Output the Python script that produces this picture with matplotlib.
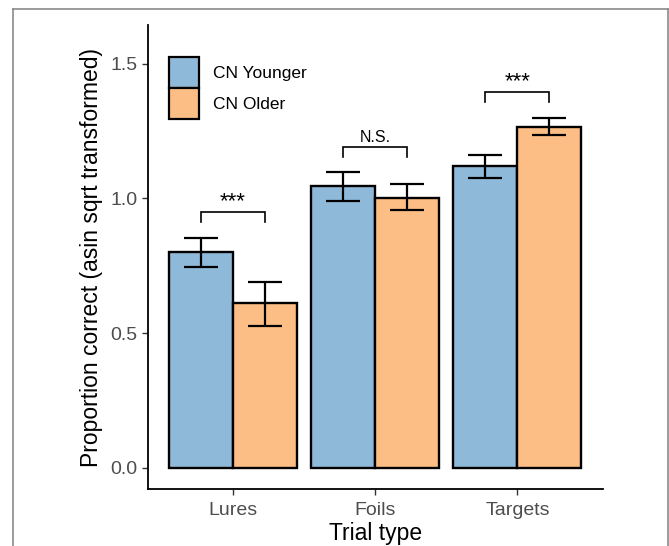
import numpy as np
import matplotlib
matplotlib.use('Agg')
import matplotlib.pyplot as plt
from matplotlib.patches import Patch
from matplotlib.lines import Line2D

categories = ['Lures', 'Foils', 'Targets']
groups = ['CN Younger', 'CN Older']

younger_mean = [0.800, 1.047, 1.119]
younger_lo = [0.744, 0.990, 1.075]
younger_hi = [0.854, 1.097, 1.160]

older_mean = [0.610, 1.003, 1.266]
older_lo = [0.527, 0.957, 1.237]
older_hi = [0.688, 1.052, 1.297]

sig_labels = ['***', 'N.S.', '***']
sig_heights = [0.951, 1.192, 1.396]

plt.rcParams['font.family'] = ['Liberation Sans', 'DejaVu Sans']

_BLUE = '#8FB9D9'
_ORANGE = '#FDBE85'
_W = 0.45

fig = plt.figure(figsize=(6.69, 5.46), dpi=100)
ax = fig.add_axes([0.2208, 0.1044, 0.6801, 0.8498])

x = np.arange(len(categories))
for off, means, lo, hi, col in [(-_W / 2, younger_mean, younger_lo, younger_hi, _BLUE),
                                (_W / 2, older_mean, older_lo, older_hi, _ORANGE)]:
    means = np.array(means)
    ax.bar(x + off, means, width=_W, color=col, edgecolor='black', linewidth=1.7, zorder=2)
    yerr = np.vstack([means - np.array(lo), np.array(hi) - means])
    ax.errorbar(x + off, means, yerr=yerr, fmt='none', ecolor='black',
                elinewidth=1.6, capsize=12.5, capthick=1.6, zorder=3)

# significance brackets
tip = 0.037
for i, (lab, h) in enumerate(zip(sig_labels, sig_heights)):
    x0, x1 = i - _W / 2, i + _W / 2
    ax.plot([x0, x0, x1, x1], [h - tip, h, h, h - tip], color='black', lw=1.2,
            solid_joinstyle='miter', zorder=3)
    fs = 11.5 if lab == 'N.S.' else 16
    ax.text(i, h + 0.018, lab, ha='center', va='baseline', fontsize=fs, color='black')

ax.set_xlim(-0.6, 2.6)
ax.set_ylim(-0.079, 1.644)
ax.set_xticks(x)
ax.set_xticklabels(categories)
ax.set_yticks([0.0, 0.5, 1.0, 1.5])
ax.set_yticklabels(['0.0', '0.5', '1.0', '1.5'])
ax.tick_params(axis='both', labelsize=14, labelcolor='#4D4D4D', color='#333333',
               length=4.5, width=1.0)
ax.tick_params(axis='x', pad=5)
ax.tick_params(axis='y', pad=3)

for s in ['top', 'right']:
    ax.spines[s].set_visible(False)
for s in ['left', 'bottom']:
    ax.spines[s].set_linewidth(1.3)
    ax.spines[s].set_color('black')

ax.set_xlabel('Trial type', fontsize=16.5, labelpad=2)
ax.set_ylabel('Proportion correct (asin sqrt transformed)', fontsize=16.5, labelpad=5)

handles = [Patch(facecolor=_BLUE, edgecolor='black', linewidth=1.6),
           Patch(facecolor=_ORANGE, edgecolor='black', linewidth=1.6)]
ax.legend(handles, groups, loc='upper left', bbox_to_anchor=(0.0475, 0.930),
          frameon=False, fontsize=12.5, borderpad=0, borderaxespad=0,
          handlelength=1.72, handleheight=2.37, labelspacing=0.0, handletextpad=0.8)

# grey frame around the figure panel
fig.add_artist(Line2D([13 / 669, 13 / 669], [0, 1 - 9 / 546], color='#8A8A8A', lw=1.2))
fig.add_artist(Line2D([13 / 669, 667.5 / 669], [1 - 9 / 546, 1 - 9 / 546], color='#8A8A8A', lw=1.2))
fig.add_artist(Line2D([667.5 / 669, 667.5 / 669], [0, 1 - 9 / 546], color='#8A8A8A', lw=1.2))

fig.savefig('out.png', dpi=100)
